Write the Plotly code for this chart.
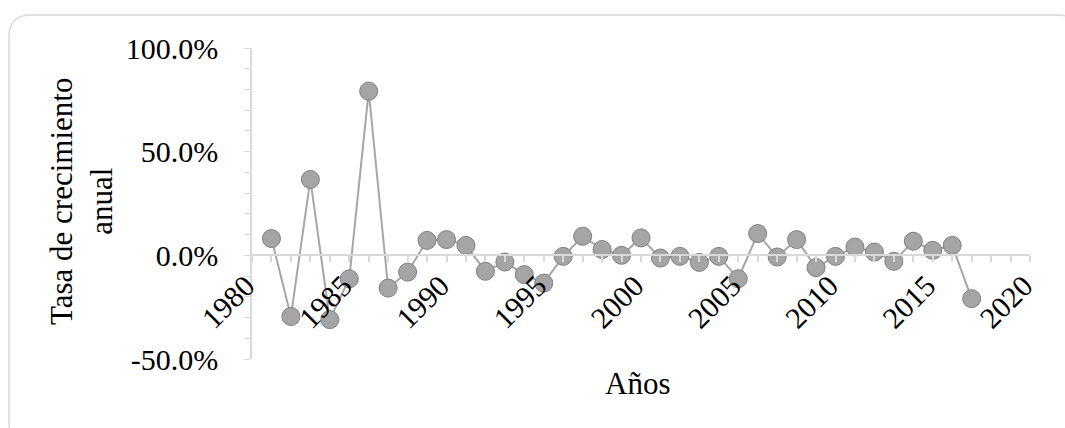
import plotly.graph_objects as go

years = list(range(1981, 2018))
growth_pct = [8.1, -29.5, 36.6, -31.0, -11.3, 79.2, -15.8, -8.1, 7.2, 7.6,
              4.8, -7.7, -3.2, -9.3, -13.4, -0.5, 9.2, 2.8, 0.0, 8.4,
              -1.3, -0.5, -3.4, -0.5, -11.3, 10.5, -0.8, 7.6, -5.9, -0.5,
              4.0, 1.6, -2.9, 6.8, 2.4, 4.8, -20.9]
y_tick_vals = [-50, 0, 50, 100]
y_tick_text = ["-50.0%", "0.0%", "50.0%", "100.0%"]

FONT = "Liberation Serif"
W, H = 1065, 428
L, R, T, B = 252, 35, 48, 69
pw, ph = W - L - R, H - T - B

def px2paper(x, y):
    return (x - L) / pw, (H - B - y) / ph

fig = go.Figure()
fig.add_trace(go.Scatter(
    x=years, y=growth_pct, mode="lines+markers",
    line=dict(color="#a6a6a6", width=2),
    marker=dict(size=18, color="#a5a5a5", line=dict(color="#7f7f7f", width=1)),
    showlegend=False, hoverinfo="x+y",
))

# rounded border
x0, y0 = px2paper(9, 15)
x1, y1 = px2paper(1080, 445)
r = 22
rx = r / pw
ry = r / ph
path = (f"M {x0+rx},{y0} L {x1-rx},{y0} Q {x1},{y0} {x1},{y0-ry} "
        f"L {x1},{y1+ry} Q {x1},{y1} {x1-rx},{y1} L {x0+rx},{y1} "
        f"Q {x0},{y1} {x0},{y1+ry} L {x0},{y0-ry} Q {x0},{y0} {x0+rx},{y0} Z")
fig.add_shape(type="path", path=path, xref="paper", yref="paper",
              line=dict(color="#d9d9d9", width=1.5), layer="below")

ax, ay = px2paper(81, 202)
fig.add_annotation(text="Tasa de crecimiento<br>anual", x=ax, y=ay,
                   xref="paper", yref="paper", showarrow=False, textangle=-90,
                   xanchor="center", yanchor="middle",
                   font=dict(family=FONT, size=31, color="#000"))
bx, by = px2paper(637, 383)
fig.add_annotation(text="Años", x=bx, y=by, xref="paper", yref="paper",
                   showarrow=False, xanchor="center", yanchor="middle",
                   font=dict(family=FONT, size=31, color="#000"))

fig.update_layout(
    width=W, height=H,
    margin=dict(l=L, r=R, t=T, b=B),
    paper_bgcolor="white", plot_bgcolor="white",
    font=dict(family=FONT, size=30, color="#000"),
    xaxis=dict(range=[1980, 2020], tick0=1980, dtick=5,
               anchor="free", position=1/3,
               showgrid=False, zeroline=False,
               showline=True, linecolor="#d9d9d9", linewidth=2,
               ticks="outside", ticklen=6, tickcolor="#d9d9d9", tickwidth=2,
               minor=dict(dtick=1, ticks="outside", ticklen=6,
                          tickcolor="#d9d9d9", tickwidth=2),
               tickangle=-45, tickfont=dict(family=FONT, size=30),
               ticklabelstandoff=-6, ticklabelshift=-6),
    yaxis=dict(range=[-50, 100], tickmode="array",
               tickvals=y_tick_vals, ticktext=y_tick_text,
               showgrid=False, zeroline=False,
               showline=True, linecolor="#d9d9d9", linewidth=1.5,
               ticks="outside", ticklen=6, tickcolor="#d9d9d9",
               minor=dict(tick0=0, dtick=10, ticks="outside", ticklen=6,
                          tickcolor="#d9d9d9"),
               tickfont=dict(family=FONT, size=30),
               ticklabelstandoff=20),
)

fig.write_html("out.html", config={"displayModeBar": False},
               post_script="document.body.style.margin='0';")
